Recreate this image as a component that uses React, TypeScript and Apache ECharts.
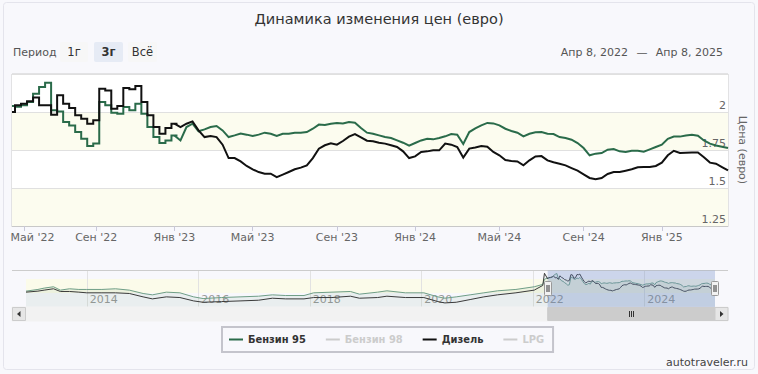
import React, { useEffect, useRef } from 'react';
import * as echarts from 'echarts';

const FONT = '"DejaVu Sans", Verdana, sans-serif';
const LEGEND_FONT = '"DejaVu Sans Condensed", "DejaVu Sans", sans-serif';

const TITLE = 'Динамика изменения цен (евро)';
const Y_NAME = 'Цена (евро)';
const SERIES_NAMES = ['Бензин 95', 'Бензин 98', 'Дизель', 'LPG'];
const HIDDEN_SERIES = ['Бензин 98', 'LPG'];
const PERIOD_LABEL = 'Период';
const periodButtons = ['1г', '3г', 'Всё'];
const selectedButton = '3г';
const rangeLabels = ['Апр 8, 2022', 'Апр 8, 2025'];
const WATERMARK = 'autotraveler.ru';

// main window: sample dates as day offsets from START_DATE (ordinal axis)
const START_DATE = '2022-04-08';
// prices were published in weekly steps until about this date
const STEPPED_UNTIL = '2023-01-01';
const sampleDays = [
  0, 6, 19, 29, 39, 49, 60, 70, 80, 91,
  101, 111, 122, 132, 142, 152, 162, 172, 182, 192,
  201, 211, 221, 231, 240, 250, 260, 270, 279, 288,
  297, 306, 315, 324, 333, 342, 351, 360, 369, 378,
  387, 396, 405, 414, 423, 432, 441, 450, 460, 469,
  478, 487, 496, 505, 514, 523, 532, 541, 550, 558,
  567, 576, 585, 594, 603, 612, 621, 630, 639, 648,
  657, 665, 674, 683, 692, 701, 710, 719, 728, 737,
  746, 755, 764, 773, 782, 791, 800, 809, 818, 827,
  836, 845, 854, 863, 872, 881, 890, 899, 908, 917,
  926, 935, 944, 953, 962, 971, 980, 989, 998, 1007,
  1016, 1024, 1033, 1042, 1051, 1060, 1069, 1078, 1087, 1096,
];

const petrol95 = [
  2.040, 2.035, 2.045, 2.066, 2.120, 2.164, 2.193, 2.011, 2.004, 1.934,
  1.912, 1.868, 1.824, 1.776, 1.792, 2.066, 2.044, 1.995, 1.989, 2.033,
  2.011, 2.055, 1.989, 1.901, 1.835, 1.796, 1.813, 1.846, 1.813, 1.901,
  1.923, 1.873, 1.886, 1.901, 1.908, 1.879, 1.835, 1.846, 1.859, 1.851,
  1.842, 1.851, 1.864, 1.857, 1.842, 1.857, 1.857, 1.864, 1.864, 1.868,
  1.890, 1.917, 1.914, 1.923, 1.928, 1.925, 1.934, 1.930, 1.895, 1.864,
  1.857, 1.846, 1.835, 1.829, 1.813, 1.798, 1.778, 1.796, 1.813, 1.824,
  1.820, 1.829, 1.840, 1.855, 1.851, 1.790, 1.868, 1.892, 1.912, 1.928,
  1.925, 1.912, 1.890, 1.875, 1.864, 1.840, 1.857, 1.866, 1.868, 1.857,
  1.855, 1.835, 1.829, 1.818, 1.796, 1.763, 1.715, 1.726, 1.730, 1.752,
  1.756, 1.741, 1.737, 1.745, 1.745, 1.739, 1.754, 1.770, 1.785, 1.824,
  1.838, 1.838, 1.846, 1.851, 1.844, 1.813, 1.792, 1.780, 1.772, 1.763,
];

const diesel = [
  2.000, 2.044, 2.055, 2.070, 2.096, 2.044, 2.044, 1.982, 2.110, 2.055,
  2.026, 1.978, 1.956, 1.923, 1.945, 2.153, 2.142, 2.022, 2.039, 2.158,
  2.149, 2.171, 2.066, 1.978, 1.901, 1.857, 1.895, 1.923, 1.901, 1.923,
  1.938, 1.879, 1.835, 1.842, 1.835, 1.785, 1.697, 1.697, 1.675, 1.645,
  1.623, 1.605, 1.594, 1.594, 1.572, 1.588, 1.605, 1.623, 1.634, 1.649,
  1.697, 1.759, 1.781, 1.794, 1.785, 1.809, 1.838, 1.855, 1.833, 1.811,
  1.807, 1.798, 1.792, 1.781, 1.770, 1.741, 1.697, 1.708, 1.737, 1.741,
  1.748, 1.748, 1.792, 1.785, 1.770, 1.700, 1.759, 1.767, 1.776, 1.772,
  1.737, 1.715, 1.684, 1.677, 1.675, 1.649, 1.682, 1.708, 1.710, 1.682,
  1.669, 1.660, 1.649, 1.631, 1.614, 1.590, 1.566, 1.557, 1.566, 1.592,
  1.605, 1.605, 1.614, 1.623, 1.636, 1.638, 1.638, 1.645, 1.667, 1.715,
  1.745, 1.730, 1.732, 1.734, 1.734, 1.702, 1.667, 1.660, 1.638, 1.616,
];

const petrol98: number[] = [];
const lpg: number[] = [];

const xTickDates = ['2022-05-01', '2022-09-01', '2023-01-01', '2023-05-01', '2023-09-01', '2024-01-01', '2024-05-01', '2024-09-01', '2025-01-01'];
const xTickLabels = ["Май '22", "Сен '22", "Янв '23", "Май '23", "Сен '23", "Янв '24", "Май '24", "Сен '24", "Янв '25"];

const Y_MIN = 1.25;
const Y_MAX = 2.25;
const Y_STEP = 0.25;

// navigator history (before the main window)
const navHistDates = [
  '2012-11-29', '2013-02-15', '2013-03-28', '2013-05-28', '2013-07-12', '2013-09-10', '2013-11-10',
  '2014-01-01', '2014-04-10', '2014-07-08', '2014-10-07', '2015-01-05', '2015-03-07', '2015-06-06',
  '2015-09-03', '2015-12-02', '2016-02-02', '2016-06-01', '2016-10-01', '2017-01-30', '2017-05-01',
  '2017-07-27', '2017-11-24', '2018-01-26', '2018-05-26', '2018-09-24', '2018-11-22', '2019-03-21',
  '2019-05-21', '2019-09-19', '2020-01-18', '2020-04-19', '2020-06-03', '2020-08-17', '2020-11-16',
  '2021-02-14', '2021-05-15', '2021-09-12', '2022-01-10', '2022-03-07', '2022-03-18',
];
const navHist95 = [
  1.565, 1.625, 1.673, 1.721, 1.601, 1.649, 1.625,
  1.625, 1.625, 1.649, 1.601, 1.481, 1.433, 1.529,
  1.505, 1.361, 1.301, 1.337, 1.361, 1.385, 1.433,
  1.409, 1.409, 1.505, 1.529, 1.553, 1.457, 1.529,
  1.577, 1.505, 1.505, 1.361, 1.313, 1.361, 1.433,
  1.505, 1.577, 1.625, 1.721, 1.805, 1.985,
];
const navHistDiesel = [
  1.529, 1.565, 1.601, 1.649, 1.553, 1.553, 1.529,
  1.505, 1.505, 1.505, 1.481, 1.361, 1.289, 1.361,
  1.337, 1.217, 1.169, 1.193, 1.217, 1.241, 1.313,
  1.289, 1.289, 1.337, 1.337, 1.385, 1.313, 1.337,
  1.385, 1.337, 1.337, 1.193, 1.145, 1.169, 1.265,
  1.361, 1.433, 1.505, 1.601, 1.769, 2.201,
];
const navYearTicks = ['2014-01-01', '2016-01-01', '2018-01-01', '2020-01-01', '2022-01-01', '2024-01-01'];
const NAV_Y_MIN = 1.0;
const NAV_Y_MAX = 2.3;
const NAV_Y_STEP = 0.5;

const GREEN = '#2a6b4a';
const BLACK = '#111111';

function parseDate(s: string) {
  const [y, m, d] = s.split('-').map(Number);
  return new Date(y, m - 1, d);
}
function pad(n: number) {
  return n < 10 ? '0' + n : '' + n;
}
function fmt(dt: Date) {
  return dt.getFullYear() + '-' + pad(dt.getMonth() + 1) + '-' + pad(dt.getDate());
}
function addDays(s: string, n: number) {
  const dt = parseDate(s);
  dt.setDate(dt.getDate() + n);
  return dt;
}

export default function App() {
  const ref = useRef<HTMLDivElement>(null);

  useEffect(() => {
    const el = ref.current as HTMLDivElement;
    const chart = echarts.init(el, undefined, { renderer: 'svg' });

    const categories = sampleDays.map((d) => fmt(addDays(START_DATE, d)));
    const start = parseDate(START_DATE).getTime();
    const dayOf = (s: string) => Math.round((parseDate(s).getTime() - start) / 86400000);
    const nearestIdx = (d: number) => {
      let best = 0;
      sampleDays.forEach((v, i) => {
        if (Math.abs(v - d) < Math.abs(sampleDays[best] - d)) best = i;
      });
      return best;
    };
    const tickIdx = xTickDates.map((s) => nearestIdx(dayOf(s)));
    const isTick = (i: number) => tickIdx.indexOf(i) >= 0;
    const splitIdx = nearestIdx(dayOf(STEPPED_UNTIL));

    const mainTs = sampleDays.map((d) => addDays(START_DATE, d).getTime());
    const nav95 = [
      ...navHistDates.map((s, i) => [parseDate(s).getTime(), navHist95[i]]),
      ...mainTs.map((t, i) => [t, petrol95[i]]),
    ];
    const navDiesel = [
      ...navHistDates.map((s, i) => [parseDate(s).getTime(), navHistDiesel[i]]),
      ...mainTs.map((t, i) => [t, diesel[i]]),
    ];
    const navMin = parseDate(navHistDates[0]).getTime();
    const navMax = mainTs[mainTs.length - 1];
    const yearTs = navYearTicks.map((s) => parseDate(s).getTime());

    const selected: Record<string, boolean> = {};
    HIDDEN_SERIES.forEach((n) => (selected[n] = false));

    const seriesColors: Record<string, string> = {
      'Бензин 95': GREEN,
      'Бензин 98': '#7cb5ec',
      'Дизель': BLACK,
      'LPG': '#90ed7d',
    };
    const seriesData: Record<string, number[]> = {
      'Бензин 95': petrol95,
      'Бензин 98': petrol98,
      'Дизель': diesel,
      'LPG': lpg,
    };

    const mainSeries: any[] = [];
    SERIES_NAMES.forEach((name) => {
      const arr = seriesData[name];
      const base = {
        name,
        type: 'line',
        xAxisIndex: 0,
        yAxisIndex: 0,
        symbol: 'none',
        showSymbol: false,
        z: name === 'Дизель' ? 4 : 3,
        lineStyle: { width: 2, color: seriesColors[name], join: 'miter' },
        itemStyle: { color: seriesColors[name] },
      };
      mainSeries.push({ ...base, step: 'middle', data: arr.map((v, i) => (i <= splitIdx ? v : '-')) });
      mainSeries.push({ ...base, data: arr.map((v, i) => (i >= splitIdx ? v : '-')) });
    });

    const option: any = {
      animation: false,
      backgroundColor: '#f8f8fc',
      textStyle: { fontFamily: FONT },
      title: {
        text: TITLE,
        left: 'center',
        top: 6,
        textStyle: { fontSize: 14.5, fontWeight: 'normal', color: '#333', fontFamily: FONT },
      },
      legend: {
        data: SERIES_NAMES,
        selected,
        left: 222,
        top: 327,
        icon: 'rect',
        itemWidth: 14,
        itemHeight: 2,
        itemGap: 20,
        borderColor: '#c4c4cc',
        borderWidth: 2,
        padding: [7, 9, 7, 7],
        inactiveColor: '#cccccc',
        textStyle: { fontFamily: LEGEND_FONT, fontSize: 11, fontWeight: 'bold', color: '#333' },
      },
      grid: [
        { left: 12, right: 30, top: 74, height: 152, show: true, borderColor: '#cccccc', borderWidth: 1, backgroundColor: '#ffffff' },
        { left: 26, right: 43, top: 270.5, height: 36.5, show: false },
      ],
      xAxis: [
        {
          type: 'category',
          gridIndex: 0,
          data: categories,
          boundaryGap: false,
          axisLine: { show: true, lineStyle: { color: '#c8c8c8' } },
          axisTick: { show: true, interval: (i: number) => isTick(i), length: 5, lineStyle: { color: '#c8c8d8' } },
          axisLabel: {
            interval: (i: number) => isTick(i),
            formatter: (_v: string, i: number) => {
              const j = tickIdx.indexOf(i);
              if (j < 0) return '';
              return j === 0 ? '{first|' + xTickLabels[0] + '}' : xTickLabels[j];
            },
            rich: { first: { padding: [0, 0, 0, 17], fontSize: 11, color: '#666', fontFamily: FONT } },
            color: '#666',
            fontSize: 11,
            fontFamily: FONT,
            margin: 6,
          },
          splitLine: { show: false },
        },
        {
          type: 'value',
          gridIndex: 1,
          min: navMin,
          max: navMax,
          axisLine: { show: false },
          axisTick: { show: false, customValues: yearTs },
          axisLabel: {
            customValues: yearTs,
            inside: true,
            formatter: (v: number) => String(new Date(v).getFullYear()),
            color: '#9a9a9a',
            fontSize: 11,
            fontFamily: FONT,
            align: 'left',
            margin: 2,
            padding: [0, 0, 0, 3],
          },
          splitLine: { show: true, lineStyle: { color: '#e2e2e2' } },
        },
      ],
      yAxis: [
        {
          type: 'value',
          gridIndex: 0,
          position: 'right',
          min: Y_MIN,
          max: Y_MAX,
          interval: Y_STEP,
          name: Y_NAME,
          nameLocation: 'middle',
          nameRotate: -90,
          nameGap: 9,
          nameTextStyle: { color: '#666', fontSize: 11, fontFamily: FONT },
          axisLine: { show: false },
          axisTick: { show: false },
          axisLabel: {
            inside: true,
            formatter: (v: number) => (Math.abs(v - Y_MAX) < 1e-9 ? '' : String(v)),
            verticalAlign: 'bottom',
            color: '#666',
            fontSize: 11,
            fontFamily: FONT,
            margin: 2,
            padding: [0, 0, 1, 0],
          },
          splitLine: { show: true, lineStyle: { color: '#e0e0e0' } },
          splitArea: { show: true, areaStyle: { color: ['#fcfcef', '#ffffff'] } },
        },
        {
          type: 'value',
          gridIndex: 1,
          min: NAV_Y_MIN,
          max: NAV_Y_MAX,
          interval: NAV_Y_STEP,
          axisLine: { show: false },
          axisTick: { show: false },
          axisLabel: { show: false },
          splitLine: { show: false },
          splitArea: { show: true, areaStyle: { color: ['rgba(255,255,255,0)', '#fbfbea'] } },
        },
      ],
      series: [
        ...mainSeries,
        {
          name: 'nav95',
          type: 'line',
          xAxisIndex: 1,
          yAxisIndex: 1,
          data: nav95,
          symbol: 'none',
          showSymbol: false,
          silent: true,
          lineStyle: { width: 1, color: '#6f9e86' },
          itemStyle: { color: '#6f9e86' },
          areaStyle: { color: 'rgba(42,107,74,0.10)' },
        },
        {
          name: 'navDiesel',
          type: 'line',
          xAxisIndex: 1,
          yAxisIndex: 1,
          data: navDiesel,
          symbol: 'none',
          showSymbol: false,
          silent: true,
          lineStyle: { width: 1, color: '#3a3a3a' },
          itemStyle: { color: '#3a3a3a' },
        },
      ],
    };

    chart.setOption(option);

    const x0 = chart.convertToPixel({ xAxisIndex: 1 }, mainTs[0]) as number;
    const x1 = chart.convertToPixel({ xAxisIndex: 1 }, mainTs[mainTs.length - 1]) as number;

    const txt = (x: number, y: number, text: string, extra: any = {}) => ({
      type: 'text',
      x,
      y,
      z: 20,
      style: {
        text,
        fill: '#555',
        fontSize: 11,
        fontFamily: FONT,
        align: 'left',
        verticalAlign: 'middle',
        ...extra,
      },
    });

    const btnX = [60, 94, 128];
    const btnW = [28, 29, 29];
    const elements: any[] = [
      { type: 'rect', z: 0, shape: { x: 3.5, y: 2.5, width: 751, height: 367, r: 3 }, style: { fill: 'none', stroke: '#e4e4ec' } },
      txt(13, 52, PERIOD_LABEL),
      ...periodButtons.flatMap((b, i) => [
        {
          type: 'rect',
          z: 20,
          shape: { x: btnX[i], y: 42, width: btnW[i], height: 20, r: 2 },
          style: { fill: b === selectedButton ? '#e6ebf5' : '#f7f7f7' },
        },
        txt(btnX[i] + btnW[i] / 2, 52, b, {
          align: 'center',
          fill: '#333',
          fontSize: 11.5,
          fontWeight: b === selectedButton ? 'bold' : 'normal',
        }),
      ]),
      txt(628, 52, rangeLabels[0], { align: 'right' }),
      txt(642, 52, '—', { align: 'center' }),
      txt(723, 52, rangeLabels[1], { align: 'right' }),
      txt(748, 362, WATERMARK, { align: 'right', fill: '#444' }),
      { type: 'line', z: 20, shape: { x1: 12, y1: 270.5, x2: 728, y2: 270.5 }, style: { stroke: '#cccccc', lineWidth: 1 } },
      { type: 'rect', z: 21, shape: { x: x0, y: 270.5, width: x1 - x0, height: 36.5 }, style: { fill: 'rgba(102,133,194,0.3)' } },
      { type: 'rect', z: 20, shape: { x: 12, y: 307, width: 716, height: 14 }, style: { fill: '#f2f2f2', stroke: '#f2f2f2' } },
      { type: 'rect', z: 21, shape: { x: x0, y: 307.5, width: x1 - x0, height: 13 }, style: { fill: '#cccccc', stroke: '#cccccc' } },
      ...[-2, 0, 2].map((d) => ({
        type: 'line',
        z: 22,
        shape: { x1: Math.round((x0 + x1) / 2) + d + 0.5, y1: 311, x2: Math.round((x0 + x1) / 2) + d + 0.5, y2: 317 },
        style: { stroke: '#333', lineWidth: 1 },
      })),
      { type: 'rect', z: 22, shape: { x: 12.5, y: 307.5, width: 13, height: 13 }, style: { fill: '#e6e6e6', stroke: '#cccccc' } },
      { type: 'polygon', z: 23, shape: { points: [[17, 314], [20.5, 311], [20.5, 317]] }, style: { fill: '#333' } },
      { type: 'rect', z: 22, shape: { x: 715, y: 307.5, width: 13, height: 13 }, style: { fill: '#e6e6e6', stroke: '#cccccc' } },
      { type: 'polygon', z: 23, shape: { points: [[723.5, 314], [720, 311], [720, 317]] }, style: { fill: '#333' } },
      ...[x0, x1].flatMap((hx) => [
        { type: 'rect', z: 24, shape: { x: Math.round(hx) - 3.5, y: 281.5, width: 7, height: 14, r: 1 }, style: { fill: '#f2f2f2', stroke: '#999' } },
        { type: 'line', z: 25, shape: { x1: Math.round(hx) - 1, y1: 285, x2: Math.round(hx) - 1, y2: 292 }, style: { stroke: '#333', lineWidth: 1 } },
        { type: 'line', z: 25, shape: { x1: Math.round(hx) + 1, y1: 285, x2: Math.round(hx) + 1, y2: 292 }, style: { stroke: '#333', lineWidth: 1 } },
      ]),
    ];

    chart.setOption({ graphic: { elements } });

    return () => {
      chart.dispose();
    };
  }, []);

  return <div ref={ref} style={{ position: 'absolute', left: 0, top: 0, width: 758, height: 374 }} />;
}
